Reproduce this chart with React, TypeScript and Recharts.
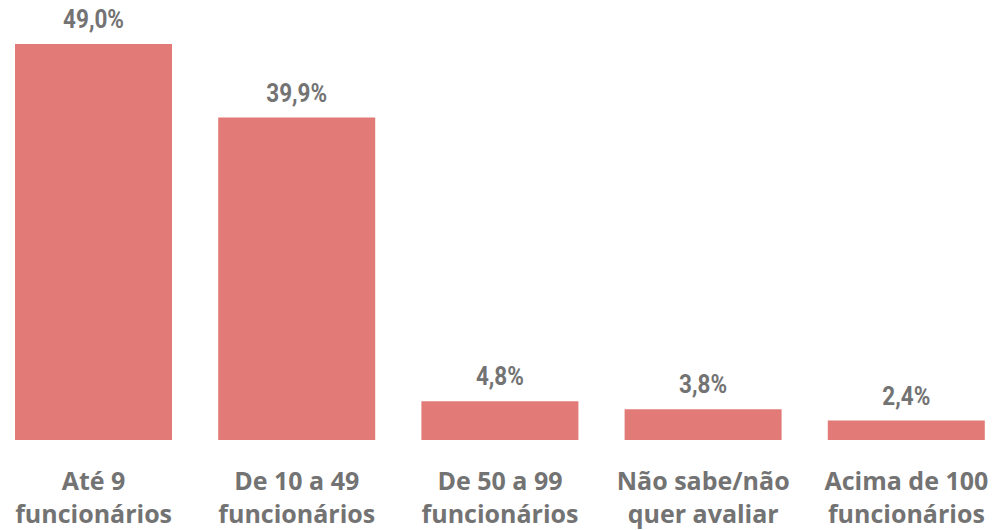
import React from 'react';
import { BarChart, Bar, XAxis, YAxis, LabelList } from 'recharts';

const categories = ['Até 9\nfuncionários', 'De 10 a 49\nfuncionários', 'De 50 a 99\nfuncionários', 'Não sabe/não\nquer avaliar', 'Acima de 100\nfuncionários'];
const values = [49.0, 39.9, 4.8, 3.8, 2.4];

const data = categories.map((name, i) => ({ name, value: values[i] }));

const barColor = '#E27B77';
const textColor = '#737373';

const formatPct = (v: any) => `${Number(v).toFixed(1).replace('.', ',')}%`;

function CategoryTick({ x, y, payload }: any) {
  const lines = String(payload.value).split('\n');
  return <text x={x} y={y} textAnchor="middle" fill={textColor} fontFamily="'Open Sans', sans-serif" fontWeight="bold" fontSize={25}>
      {lines.map((line, i) => <tspan key={i} x={x} y={y + 50 + i * 33}>{line}</tspan>)}
    </text>;
}

// narrow DIN-like value label above each bar
function ValueLabel({ x, y, width, value }: any) {
  const cx = x + width / 2;
  const by = y - 16;
  return <text x={0} y={0} transform={`translate(${cx},${by}) scale(0.9,1)`} textAnchor="middle" fill={textColor} fontFamily="Roboto, sans-serif" fontWeight="bold" fontSize={25}>
      {formatPct(value)}
    </text>;
}

export default function App() {
  return <div style={{ position: 'absolute', left: 0, top: 0, width: 998, height: 530, overflow: 'hidden', background: '#fff' }}>
      <div style={{ marginLeft: -8 }}>
        <BarChart width={1016} height={530} data={data} margin={{ top: 44, right: 0, bottom: 0, left: 0 }} barSize={157}>
          <XAxis dataKey="name" axisLine={false} tickLine={false} tickSize={0} tickMargin={0} interval={0} tick={<CategoryTick />} height={90} />
          <YAxis hide domain={[0, 49]} />
          <Bar dataKey="value" fill={barColor} isAnimationActive={false}>
            <LabelList dataKey="value" content={<ValueLabel />} />
          </Bar>
        </BarChart>
      </div>
    </div>;
}
